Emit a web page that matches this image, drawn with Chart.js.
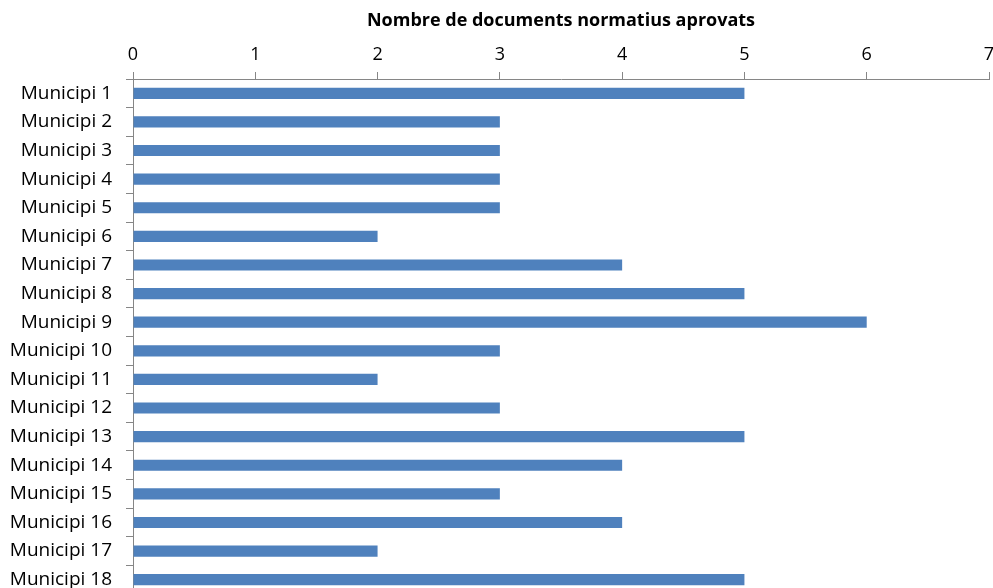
<!DOCTYPE html>
<html>
<head>
<meta charset="utf-8">
<script src="https://cdn.jsdelivr.net/npm/chart.js@4/dist/chart.umd.min.js"></script>
<style>
  html, body { margin: 0; padding: 0; background: #fff; overflow: hidden; }
</style>
</head>
<body>
<canvas id="canvas" width="993" height="594"></canvas>
<script>
const municipis = [
  "Municipi 1", "Municipi 2", "Municipi 3", "Municipi 4", "Municipi 5", "Municipi 6",
  "Municipi 7", "Municipi 8", "Municipi 9", "Municipi 10", "Municipi 11", "Municipi 12",
  "Municipi 13", "Municipi 14", "Municipi 15", "Municipi 16", "Municipi 17", "Municipi 18"
]
const documents = [5, 3, 3, 3, 3, 2, 4, 5, 6, 3, 2, 3, 5, 4, 3, 4, 2, 5]
const axisTitle = "Nombre de documents normatius aprovats"

const font = "'Open Sans', sans-serif"
const axisGrey = "#868686"

const chart = new Chart(document.getElementById("canvas"), {
  type: "bar",
  data: {
    labels: municipis,
    datasets: [
      {
        data: documents,
        backgroundColor: "#4F81BD",
        borderWidth: 0,
        barPercentage: 0.5,
        categoryPercentage: 0.78
      }
    ]
  },
  options: {
    indexAxis: "y",
    responsive: false,
    animation: false,
    layout: { padding: { top: 0, right: 4, bottom: 0, left: 0 } },
    plugins: {
      legend: { display: false },
      tooltip: { enabled: false }
    },
    scales: {
      x: {
        position: "top",
        min: 0,
        max: 7,
        ticks: {
          stepSize: 1,
          color: "#000",
          font: { family: font, size: 18 },
          padding: 6
        },
        grid: {
          drawOnChartArea: false,
          tickLength: 7,
          color: axisGrey
        },
        border: { color: axisGrey },
        title: {
          display: true,
          text: axisTitle,
          color: "#000",
          font: { family: font, size: 18, weight: "bold" },
          padding: { top: 10, bottom: 4 }
        },
        afterFit: scale => {
          scale.height = 79
          scale.paddingLeft = 0
          scale.paddingRight = 0
        }
      },
      y: {
        ticks: {
          color: "#000",
          font: { family: font, size: 19 },
          padding: 14
        },
        grid: {
          offset: true,
          drawOnChartArea: false,
          tickLength: 7,
          color: axisGrey
        },
        border: { color: axisGrey },
        afterFit: scale => {
          scale.width = 133
          scale.paddingTop = 0
          scale.paddingBottom = 0
        }
      }
    }
  }
})
</script>
</body>
</html>
